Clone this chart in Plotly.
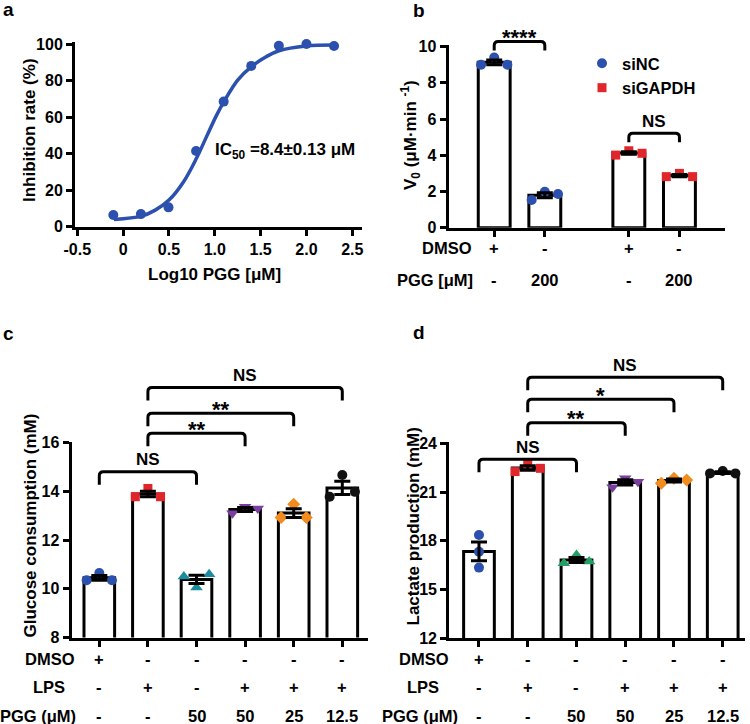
import numpy as np
import plotly.graph_objects as go

W, H = 750, 724
FONT = "Arial, 'Liberation Sans', Helvetica, sans-serif"

# ---------------- data ----------------
# panel a : dose-response
a_log_conc = [-0.107, 0.194, 0.495, 0.796, 1.097, 1.398, 1.699, 2.000, 2.301]
a_inhibition = [6.4, 6.9, 10.6, 41.5, 68.6, 88.2, 99.2, 100.2, 99.1]
a_fit_log_conc = [-0.10, 0.20, 0.35, 0.50, 0.66, 0.80, 0.91, 1.02, 1.10, 1.25, 1.40, 1.56, 1.70, 2.00, 2.30]
a_fit_inhibition = [4.0, 5.8, 9.1, 14.6, 24.7, 37.5, 49.4, 61.2, 68.6, 80.4, 87.8, 93.2, 96.5, 99.1, 99.6]
a_xticks = [-0.5, 0, 0.5, 1.0, 1.5, 2.0, 2.5]
a_xticklabels = ["-0.5", "0", "0.5", "1.0", "1.5", "2.0", "2.5"]
a_yticks = [0, 20, 40, 60, 80, 100]

# panel b : V0
b_groups = ["siNC", "siNC", "siGAPDH", "siGAPDH"]
b_dmso = ["+", "-", "+", "-"]
b_pgg = ["-", "200", "-", "200"]
b_values = [[9.0, 9.4, 9.0], [1.53, 1.99, 1.86], [4.01, 4.25, 4.11], [2.82, 3.0, 2.82]]
b_yticks = [0, 2, 4, 6, 8, 10]
b_sig = [(0, 1, "****"), (2, 3, "NS")]

# panels c, d
cd_dmso = ["+", "-", "-", "-", "-", "-"]
cd_lps = ["-", "+", "-", "+", "+", "+"]
cd_pgg = ["-", "-", "50", "50", "25", "12.5"]
c_values = [[10.35, 10.65, 10.35], [13.78, 14.12, 13.78], [10.5, 10.05, 10.6],
            [13.1, 13.37, 13.3], [12.93, 13.47, 12.93], [13.78, 14.67, 13.98]]
d_values = [[18.36, 17.33, 16.35], [22.26, 22.73, 22.46], [16.62, 17.13, 16.72],
            [21.29, 21.85, 21.64], [21.54, 21.85, 21.74], [22.15, 22.3, 22.15]]
c_yticks = [8, 10, 12, 14, 16]
d_yticks = [12, 15, 18, 21, 24]
c_sig = [(0, 2, "NS"), (1, 3, "**"), (1, 4, "**"), (1, 5, "NS")]
d_sig = [(0, 2, "NS"), (1, 3, "**"), (1, 4, "*"), (1, 5, "NS")]

# ---------------- layout / style ----------------
BLUE = "#2b50ad"
RED = "#e0262b"
c_colors = [BLUE, RED, "#1a8c9e", "#7a3e9e", "#f28c1e", "#111111"]
d_colors = [BLUE, RED, "#22a064", "#7a3e9e", "#f28c1e", "#111111"]
cd_symbols = ["circle", "square", "triangle-up", "triangle-down", "diamond", "circle"]
cd_sizes = [10, 9, 11, 11, 10, 10]
b_pos = [0, 1, 2.66, 3.66]
cd_pos = [0, 1, 2, 3, 4, 5]
jit = [-0.26, 0.0, 0.26]
d_jit = [[0, 0, 0]] + [jit] * 5


def PX(x):
    return x / W


def PY(y):
    return 1 - y / H


def B(s):
    return "<b>" + s + "</b>"


# subplot boxes in page pixels (left, right, top, bottom)
boxes = {
    "a": (75, 362, 42, 226.7),
    "b": (448.5, 725, 45, 227.7),
    "c": (71.5, 368.3, 441.7, 637.5),
    "d": (449.2, 745, 441.7, 638.3),
}
ranges_x = {"a": [-0.525, 2.606], "b": [-0.903, 4.56], "c": [-0.572, 5.535], "d": [-0.611, 5.457]}
ranges_y = {"a": [0, 101.3], "b": [0, 10.09], "c": [8, 16.04], "d": [12, 24.1]}
ids = {"a": "", "b": "2", "c": "3", "d": "4"}

tickfont = dict(family=FONT, size=16, color="black")
labfont = dict(family=FONT, size=16.5, color="black")
titlefont = dict(family=FONT, size=17, color="black")
starfont = dict(family=FONT, size=22, color="black")

fig = go.Figure()


def sem(v):
    v = np.asarray(v, float)
    return v.std(ddof=1) / np.sqrt(len(v))


# ---- panel a ----
fig.add_trace(go.Scatter(x=a_fit_log_conc, y=a_fit_inhibition, mode="lines",
                         line=dict(color=BLUE, width=3.5, shape="spline", smoothing=1.0),
                         showlegend=False, xaxis="x", yaxis="y", hoverinfo="skip"))
fig.add_trace(go.Scatter(x=a_log_conc, y=a_inhibition, mode="markers",
                         marker=dict(color=BLUE, size=10), showlegend=False,
                         xaxis="x", yaxis="y", cliponaxis=False))


# ---- bar panels ----
def bar_panel(key, pos, values, colors, symbols, sizes, jitter, names=None):
    xa = "x" + ids[key]
    ya = "y" + ids[key]
    means = [float(np.mean(v)) for v in values]
    sems = [float(sem(v)) for v in values]
    fig.add_trace(go.Bar(x=pos, y=means, width=0.63,
                         marker=dict(color="white", line=dict(color="black", width=3)),
                         showlegend=False, xaxis=xa, yaxis=ya))
    shown = set()
    for i, v in enumerate(values):
        xs = [pos[i] + j for j in jitter[i]]
        nm = names[i] if names else None
        sl = bool(names) and nm not in shown
        if names:
            shown.add(nm)
        fig.add_trace(go.Scatter(x=xs, y=v, mode="markers", name=B(nm) if nm else None,
                                 legendgroup=nm, showlegend=sl,
                                 marker=dict(color=colors[i], symbol=symbols[i], size=sizes[i]),
                                 xaxis=xa, yaxis=ya, cliponaxis=False))
    fig.add_trace(go.Scatter(x=pos, y=means, mode="markers", marker=dict(size=1, color="rgba(0,0,0,0)"),
                             error_y=dict(type="data", array=sems, color="black", thickness=3, width=8),
                             showlegend=False, xaxis=xa, yaxis=ya, cliponaxis=False, hoverinfo="skip"))


b_colors = [BLUE if g == "siNC" else RED for g in b_groups]
b_symbols = ["circle" if g == "siNC" else "square" for g in b_groups]
b_sizes = [10 if g == "siNC" else 9 for g in b_groups]
bar_panel("b", b_pos, b_values, b_colors, b_symbols, b_sizes, [jit] * 4, names=b_groups)
bar_panel("c", cd_pos, c_values, c_colors, cd_symbols, cd_sizes, [jit] * 6)
bar_panel("d", cd_pos, d_values, d_colors, cd_symbols, cd_sizes, d_jit)

# ---- axes ----
layout_axes = {}
for key in "abcd":
    l, r, t, b = boxes[key]
    n = ids[key]
    if key == "a":
        xt = dict(tickvals=a_xticks, ticktext=[B(s) for s in a_xticklabels], showticklabels=True)
        yt = a_yticks
    else:
        pos = b_pos if key == "b" else cd_pos
        xt = dict(tickvals=pos, showticklabels=False)
        yt = {"b": b_yticks, "c": c_yticks, "d": d_yticks}[key]
    common = dict(showline=True, linewidth=3, linecolor="black", ticks="outside",
                  ticklen=6, tickwidth=3, tickcolor="black", showgrid=False,
                  zeroline=False, tickfont=tickfont, fixedrange=True, automargin=False)
    layout_axes["xaxis" + n] = dict(domain=[PX(l), PX(r)], range=ranges_x[key], anchor="y" + n,
                                    **common, **xt)
    layout_axes["yaxis" + n] = dict(domain=[PY(b), PY(t)], range=ranges_y[key], anchor="x" + n,
                                    tickvals=yt, ticktext=[B(str(v)) for v in yt], **common)

annotations = []
shapes = []


def ann(x, y, text, font, xref="paper", yref="paper", **kw):
    d = dict(x=x, y=y, xref=xref, yref=yref, text=B(text), showarrow=False, font=font,
             xanchor="center", yanchor="middle")
    d.update(kw)
    annotations.append(d)


# panel letters
letter_font = dict(family=FONT, size=19, color="black")
for txt, x, y in [("a", 8, 9), ("b", 419, 11), ("c", 8, 333), ("d", 419, 332)]:
    ann(PX(x), PY(y), txt, letter_font)

# axis titles
ann(PX(214), PY(275), "Log10 PGG [μM]", titlefont)
ann(PX(29), PY(130), "Inhibition rate (%)", titlefont, textangle=-90)
ann(PX(410), PY(135), "V<sub>0</sub> (μM·min <sup>-1</sup>)", titlefont, textangle=-90)
ann(PX(29.5), PY(526), "Glucose consumption (mM)", titlefont, textangle=-90)
ann(PX(412.5), PY(527), "Lactate production (mM)", titlefont, textangle=-90)
ann(PX(212.7), PY(151), "IC<sub>50</sub> =8.4±0.13 μM", titlefont, xanchor="left")


# condition rows
def rows(key, pos, row_defs):
    xa = "x" + ids[key]
    for label, vals, y, lx in row_defs:
        ann(PX(lx), PY(y), label, labfont)
        for p, v in zip(pos, vals):
            ann(p, PY(y), v, labfont, xref=xa)


rows("b", b_pos, [("DMSO", b_dmso, 248, 447), ("PGG [μM]", b_pgg, 280, 435)])
rows("c", cd_pos, [("DMSO", cd_dmso, 659, 49.5), ("LPS", cd_lps, 687, 48.5), ("PGG (μM)", cd_pgg, 715.5, 38)])
rows("d", cd_pos, [("DMSO", cd_dmso, 659, 424), ("LPS", cd_lps, 687, 423), ("PGG (μM)", cd_pgg, 716, 420)])

# significance brackets (levels in data units of each panel)
b_levels = [10.28, 5.22]
c_levels = [14.81, 16.39, 17.21, 18.27]
d_levels = [23.02, 25.27, 26.71, 28.06]
drop_px = {"b": 9, "c": 13, "d": 13}
CORNER_PX = 4


def brackets(key, pos, sigs, levels):
    xa = "x" + ids[key]
    l, r, t, b = boxes[key]
    r0, r1 = ranges_y[key]
    x_per_px = (ranges_x[key][1] - ranges_x[key][0]) / (r - l)
    rx = CORNER_PX * x_per_px
    ry = CORNER_PX / H
    for (i, j, label), lev in zip(sigs, levels):
        page_y = b - (lev - r0) / (r1 - r0) * (b - t)
        yh = PY(page_y)
        yl = PY(page_y + drop_px[key])
        x0, x1 = pos[i], pos[j]
        path = (f"M{x0},{yl} L{x0},{yh - ry} Q{x0},{yh} {x0 + rx},{yh} "
                f"L{x1 - rx},{yh} Q{x1},{yh} {x1},{yh - ry} L{x1},{yl}")
        shapes.append(dict(type="path", xref=xa, yref="paper", path=path,
                           line=dict(color="black", width=3)))
        if label == "NS":
            ann((x0 + x1) / 2, PY(page_y - 12), label, titlefont, xref=xa)
        else:
            ann((x0 + x1) / 2, PY(page_y - 4), label, starfont, xref=xa)


brackets("b", b_pos, b_sig, b_levels)
brackets("c", cd_pos, c_sig, c_levels)
brackets("d", cd_pos, d_sig, d_levels)

fig.update_layout(
    width=W, height=H, margin=dict(l=0, r=0, t=0, b=0, autoexpand=False),
    paper_bgcolor="white", plot_bgcolor="rgba(0,0,0,0)",
    font=dict(family=FONT, color="black"),
    showlegend=True,
    legend=dict(x=PX(582), y=PY(46), xanchor="left", yanchor="top",
                font=dict(family=FONT, size=16.5, color="black"),
                bgcolor="rgba(0,0,0,0)", tracegroupgap=0, itemclick=False, itemdoubleclick=False),
    annotations=annotations, shapes=shapes, **layout_axes,
)

fig.write_html("out.html", config={"displayModeBar": False},
               post_script="document.body.style.margin='0px';")
